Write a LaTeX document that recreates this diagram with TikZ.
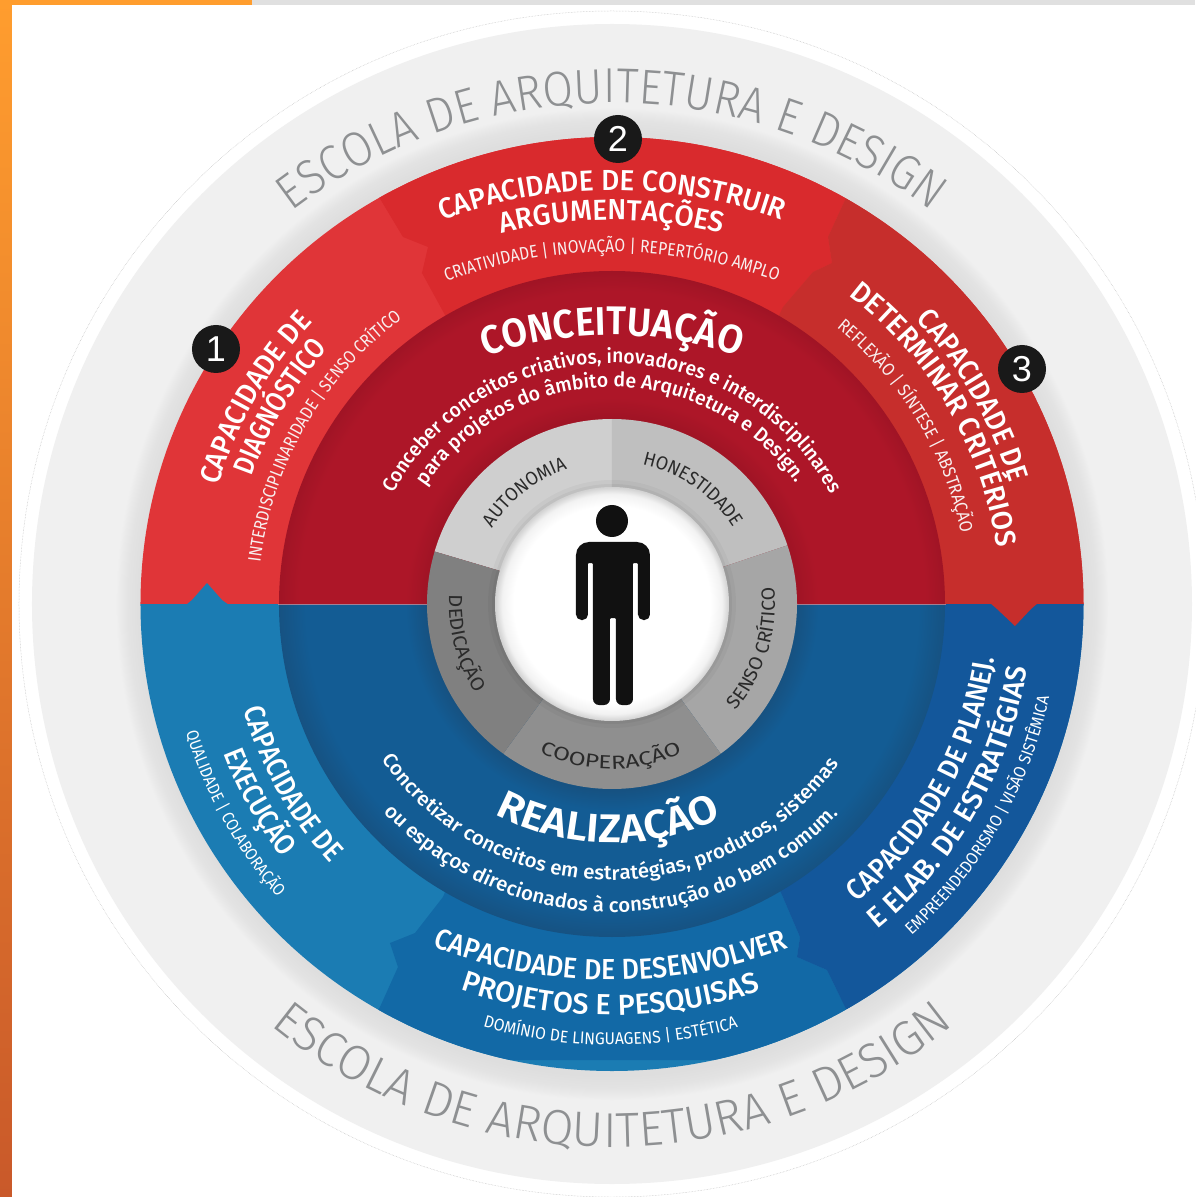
\documentclass[tikz,border=0pt]{standalone}
\usepackage{fontspec}
\setmainfont{Liberation Sans}
\usetikzlibrary{decorations.text}
\definecolor{redL}{HTML}{E03538}
\definecolor{redM}{HTML}{D92A2D}
\definecolor{redR}{HTML}{C62E2C}
\definecolor{bluL}{HTML}{1B7CB3}
\definecolor{bluM}{HTML}{1269A6}
\definecolor{bluR}{HTML}{13579B}
\definecolor{escola}{HTML}{8E9092}
\definecolor{ringtxt}{HTML}{2A2A2A}
\definecolor{figure}{HTML}{111111}
\definecolor{subwhite}{HTML}{F8EEEE}
\definecolor{darkredA}{HTML}{AD1628}
\definecolor{darkredB}{HTML}{A01425}
\definecolor{darkblueA}{HTML}{135C94}
\definecolor{darkblueB}{HTML}{165282}
\definecolor{stripA}{HTML}{FF9D2E}
\definecolor{stripB}{HTML}{C9592A}
\pgfdeclareradialshading{rimshade}{\pgfpoint{0bp}{0bp}}{color(0bp)=(black!13);color(23.75bp)=(black!13);color(24.4bp)=(black!11);color(24.8bp)=(black!8);color(25bp)=(black!6);color(50bp)=(black!6)}
\pgfdeclareradialshading{darkred}{\pgfpoint{0bp}{0bp}}{color(0bp)=(darkredB);color(14bp)=(darkredB);color(15.5bp)=(darkredA);color(23.5bp)=(darkredA);color(25bp)=(darkredB);color(50bp)=(darkredB)}
\pgfdeclareradialshading{darkblue}{\pgfpoint{0bp}{0bp}}{color(0bp)=(darkblueB);color(14bp)=(darkblueB);color(15.5bp)=(darkblueA);color(23bp)=(darkblueA);color(25bp)=(darkblueB);color(50bp)=(darkblueB)}
\pgfdeclareradialshading{whitecore}{\pgfpoint{0bp}{0bp}}{color(0bp)=(white);color(21bp)=(white);color(23.5bp)=(black!5);color(25bp)=(black!18);color(50bp)=(black!18)}
\tikzset{
  badge/.style={circle,fill=black!90,text=white,minimum size=48pt,inner sep=0pt,font=\fontsize{36}{36}\selectfont},
}
% dir, centre y (px), radius, mid angle, span, font, size, colour, text
\newcommand\arctxt[9]{%
  \pgfmathsetmacro\arcls{0.03*#7}%
  \setbox0=\hbox{\font\tmpf="#6:letterspace=\arcls" at #7pt \tmpf #9}%
  \pgfmathsetmacro\arcst{#3/\the\wd0*#5*0.01745329}%
  \pgfmathsetmacro\arcs{#4+#1*(#5/2+25)}%
  \pgfmathsetmacro\arce{#4-#1*(#5/2+25)}%
  \pgfmathsetmacro\arcy{604-#2}%
  \font\curf="#6:letterspace=\arcls;extend=\arcst" at #7pt
  \path[shift={(0pt,\arcy pt)},decorate,decoration={text along path,text align=center,text={|\curf\color{#8}|#9}}]
    (\arcs:#3pt) arc[start angle=\arcs,end angle=\arce,radius=#3pt];
}
\def\fL{Fira Sans Light}
\def\fR{Fira Sans}
\def\fM{Fira Sans Medium}
\def\fB{Fira Sans SemiBold}
\begin{document}
\begin{tikzpicture}[x=1pt,y=1pt]
\useasboundingbox (-612,-593) rectangle (583,604);
\fill[white] (-612,-593) rectangle (583,604);
% page furniture
\begin{scope}[x=1pt,y=-1pt,shift={(-612pt,604pt)}]
  \shade[top color=stripA,bottom color=stripB] (0,0) rectangle (12,1197);
  \fill[black!12] (252,0) rectangle (1195,5);
  \fill[stripA] (0,0) rectangle (252,5);
\end{scope}
% outer band
\draw[black!25,line width=.5pt,densely dotted] (0,0) circle[radius=593pt];
\fill[black!6] (0,0) circle[radius=580pt];
\shade[shading=rimshade] (0,0) circle[radius=496pt];
% red half
\begin{scope}
  \clip (471.5pt,0pt) arc[start angle=0,end angle=180,x radius=471.5pt,y radius=467pt] -- cycle;
  \fill[redL] (-480,0) rectangle (480,480);
  \begin{scope}[x=1pt,y=-1pt,shift={(-612pt,604pt)}]
    \fill[redM] (350,150) -- (382,202) -- (403,237) -- (428,247) -- (422,273) -- (445,315) -- (470,380) -- (770,380) -- (783,307) -- (813,272) -- (832,263) -- (828,237) -- (845,200) -- (880,120) -- cycle;
    \fill[redR] (880,120) -- (845,200) -- (828,237) -- (832,263) -- (813,272) -- (783,307) -- (740,400) -- (740,604) -- (1100,604) -- (1100,100) -- cycle;
  \end{scope}
\end{scope}
% blue half
\begin{scope}
  \clip (471.5pt,0pt) arc[start angle=0,end angle=-180,x radius=471.5pt,y radius=467pt] -- cycle;
  \fill[bluL] (-480,0) rectangle (480,-480);
  \begin{scope}[x=1pt,y=-1pt,shift={(-612pt,604pt)}]
    \fill[bluM] (350,1060) -- (380,1007) -- (398,967) -- (390,943) -- (415,933) -- (443,897) -- (470,830) -- (760,830) -- (782,895) -- (800,937) -- (797,957) -- (827,970) -- (845,1007) -- (880,1060) -- cycle;
    \fill[bluR] (880,1060) -- (845,1007) -- (827,970) -- (797,957) -- (800,937) -- (782,895) -- (740,800) -- (740,604) -- (1100,604) -- (1100,1060) -- cycle;
  \end{scope}
\end{scope}
% notches on the horizontal seam
\begin{scope}[x=1pt,y=-1pt,shift={(-612pt,604pt)}]
  \fill[bluL] (186,605) -- (192,600) -- (207,583) -- (222,600) -- (229,605) -- cycle;
  \fill[redR] (990,603) -- (997,609) -- (1015,626) -- (1031,609) -- (1038,603) -- cycle;
\end{scope}
% inner discs
\begin{scope}
  \clip (-340,0) rectangle (340,340);
  \shade[shading=darkred] (0,0) circle[radius=333pt];
\end{scope}
\begin{scope}
  \clip (-340,0) rectangle (340,-340);
  \shade[shading=darkblue] (0,0) circle[radius=333pt];
\end{scope}
\draw[red!40!white,line width=.5pt,opacity=.6] (-334,0) -- (-185,0);
\draw[red!40!white,line width=.5pt,opacity=.6] (185,0) -- (334,0);
% grey ring
\fill[black!19] (0,0) -- (90:185pt) arc[start angle=90,end angle=163.5,radius=185pt] -- cycle;
\fill[black!25] (0,0) -- (90:185pt) arc[start angle=90,end angle=18.5,radius=185pt] -- cycle;
\fill[black!35] (0,0) -- (18.5:185pt) arc[start angle=18.5,end angle=-54,radius=185pt] -- cycle;
\fill[black!44] (0,0) -- (-54:185pt) arc[start angle=-54,end angle=-126,radius=185pt] -- cycle;
\fill[black!50] (0,0) -- (234:185pt) arc[start angle=234,end angle=163.5,radius=185pt] -- cycle;
\fill[black,opacity=.03] (0,0) circle[radius=124pt];
\fill[black,opacity=.04] (0,0) circle[radius=120pt];
\shade[shading=whitecore] (0,0) circle[radius=117pt];
% figure
\begin{scope}[x=1pt,y=-1pt,shift={(-612pt,604pt)}]
  \fill[figure] (612,521) circle[radius=16pt];
  \fill[figure] (576,612) [rounded corners=13pt] -- (576,542) -- (650,542) [rounded corners=5.5pt] -- (650,620) -- (638,620) [rounded corners=1pt] -- (638,563) -- (633,563) [rounded corners=6pt] -- (633,705) -- (616,705) [rounded corners=1pt] -- (616,618) -- (610,618) [rounded corners=6pt] -- (610,705) -- (593,705) [rounded corners=1pt] -- (593,563) -- (588,563) [rounded corners=5.5pt] -- (588,620) -- (576,620) [sharp corners] -- cycle;
\end{scope}
% outer lettering
\arctxt{1}{630}{527}{90}{76}{\fL}{49}{escola}{ESCOLA DE ARQUITETURA E DESIGN}
\arctxt{-1}{608}{539}{270}{80}{\fL}{49}{escola}{ESCOLA DE ARQUITETURA E DESIGN}
% top segment
\arctxt{1}{682}{492}{90}{40.5}{\fM}{29}{white}{CAPACIDADE DE CONSTRUIR}
\arctxt{1}{675}{455}{90}{28}{\fM}{29}{white}{ARGUMENTAÇÕES}
\arctxt{1}{732}{480}{90}{40.2}{\fR}{18}{subwhite}{CRIATIVIDADE {|} INOVAÇÃO {|} REPERTÓRIO AMPLO}
% left segment
\arctxt{1}{604}{411}{150}{26.6}{\fM}{29}{white}{CAPACIDADE DE}
\arctxt{1}{604}{382}{149.3}{22.6}{\fM}{29}{white}{DIAGNÓSTICO}
\arctxt{1}{604}{354}{149.8}{47.2}{\fR}{18}{subwhite}{INTERDISCIPLINARIDADE {|} SENSO CRÍTICO}
% right segment
\arctxt{1}{604}{416}{30}{26.2}{\fM}{29}{white}{CAPACIDADE DE}
\arctxt{1}{604}{389}{30.4}{44.8}{\fM}{29}{white}{DETERMINAR CRITÉRIOS}
\arctxt{1}{604}{356}{31.2}{39.5}{\fR}{18}{subwhite}{REFLEXÃO {|} SÍNTESE {|} ABSTRAÇÃO}
% conceituacao
\arctxt{1}{718}{383}{90}{39}{\fB}{40}{white}{CONCEITUAÇÃO}
\arctxt{1}{611}{248}{90}{124}{\fM}{20}{white}{Conceber conceitos criativos, inovadores e interdisciplinares}
\arctxt{1}{612}{225}{90.5}{111}{\fM}{20}{white}{para projetos do âmbito de Arquitetura e Design.}
% ring labels
\arctxt{1}{604}{142}{128}{39.3}{\fR}{19}{ringtxt}{AUTONOMIA}
\arctxt{1}{604}{143}{55}{45.6}{\fR}{19}{ringtxt}{HONESTIDADE}
\arctxt{-1}{604}{163}{-17.5}{47}{\fR}{19}{ringtxt}{SENSO CRÍTICO}
\arctxt{-1}{604}{165}{269.5}{51.5}{\fR}{19}{ringtxt}{COOPERAÇÃO}
\arctxt{-1}{604}{163}{195}{36.6}{\fR}{19}{ringtxt}{DEDICAÇÃO}
% realizacao
\arctxt{-1}{593}{250}{269}{54.8}{\fB}{40}{white}{REALIZAÇÃO}
\arctxt{-1}{599}{281}{269.4}{109.2}{\fM}{20}{white}{Concretizar conceitos em estratégias, produtos, sistemas}
\arctxt{-1}{602}{310}{269.8}{94.7}{\fM}{20}{white}{ou espaços direcionados à construção do bem comum.}
% bottom segment
\arctxt{-1}{483}{497}{269.8}{42}{\fM}{29}{white}{CAPACIDADE DE DESENVOLVER}
\arctxt{-1}{547}{468}{269.8}{37.6}{\fM}{29}{white}{PROJETOS E PESQUISAS}
\arctxt{-1}{581}{464}{269.8}{32}{\fR}{17}{white}{DOMÍNIO DE LINGUAGENS {|} ESTÉTICA}
% lower left segment
\arctxt{-1}{604}{383}{209.3}{26.6}{\fM}{29}{white}{CAPACIDADE DE}
\arctxt{-1}{604}{416}{209.3}{16.6}{\fM}{29}{white}{EXECUÇÃO}
\arctxt{-1}{604}{445}{209}{24.6}{\fR}{17}{white}{QUALIDADE {|} COLABORAÇÃO}
% lower right segment
\arctxt{-1}{604}{386}{-29.3}{42.8}{\fM}{29}{white}{CAPACIDADE DE PLANEJ.}
\arctxt{-1}{604}{420}{-29.8}{42.2}{\fM}{29}{white}{E ELAB. DE ESTRATÉGIAS}
\arctxt{-1}{604}{447}{-30}{36}{\fR}{17}{white}{EMPREENDEDORISMO {|} VISÃO SISTÊMICA}
% badges
\begin{scope}[x=1pt,y=-1pt,shift={(-612pt,604pt)}]
  \node[badge] (b1) at (216,349) {1};
  \node[badge] (b2) at (618,139) {2};
  \node[badge] (b3) at (1022,369) {3};
\end{scope}
\end{tikzpicture}
\end{document}
